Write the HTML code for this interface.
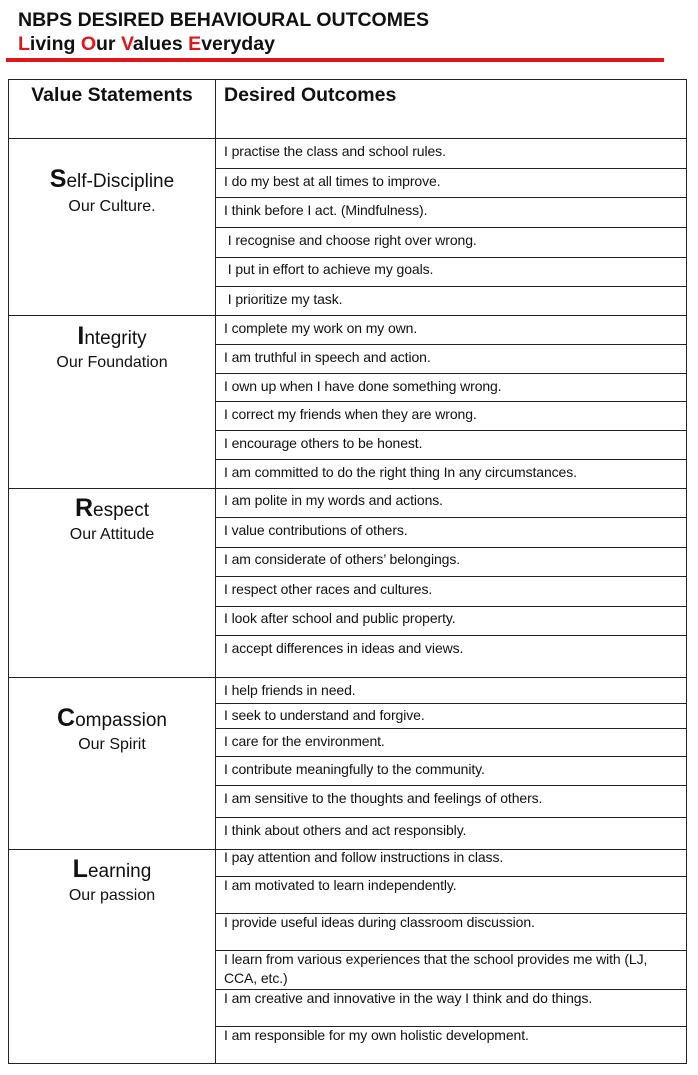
<!DOCTYPE html>
<html><head><meta charset="utf-8"><style>
body{margin:0;width:698px;height:1075px;background:#fff;position:relative;font-family:"Liberation Sans",Arial,sans-serif;color:#111;overflow:hidden}
.a{position:absolute;white-space:nowrap}
.t{position:absolute;left:224px;font-size:14px;line-height:18px;letter-spacing:-0.1px}
.v{position:absolute;left:8px;width:208px;text-align:center;font-size:19px}
.v b{font-weight:bold;font-size:25px}
.s{position:absolute;left:8px;width:208px;text-align:center;font-size:16px}
.h{position:absolute;left:8px;right:12px;height:0;border-top:1.5px solid #222}
.r{position:absolute;left:216px;width:470px;height:0;border-top:1.5px solid #222}
</style></head><body>
<div class="a" style="left:18px;top:9px;font-size:19.5px;font-weight:bold">NBPS DESIRED BEHAVIOURAL OUTCOMES</div>
<div class="a" style="left:18px;top:33px;font-size:19.5px;font-weight:bold"><span style="color:#e0161b">L</span>iving <span style="color:#e0161b">O</span>ur <span style="color:#e0161b">V</span>alues <span style="color:#e0161b">E</span>veryday</div>
<div class="a" style="left:6px;top:58px;width:658px;height:4px;background:#e0161b"></div>
<div class="a" style="left:8px;top:79px;width:677px;height:983px;border:1.5px solid #222"></div>
<div class="a" style="left:215px;top:79px;width:0;height:984px;border-left:1.5px solid #222"></div>
<div class="a" style="left:8px;top:84px;width:208px;text-align:center;font-size:19.5px;font-weight:bold">Value Statements</div>
<div class="a" style="left:224px;top:84px;font-size:19.5px;font-weight:bold">Desired Outcomes</div>
<div class="h" style="top:138px"></div><div class="h" style="top:315px"></div><div class="h" style="top:488px"></div><div class="h" style="top:677px"></div><div class="h" style="top:849px"></div>
<div class="r" style="top:168px"></div><div class="r" style="top:197px"></div><div class="r" style="top:227px"></div><div class="r" style="top:257px"></div><div class="r" style="top:286px"></div>
<div class="r" style="top:344px"></div><div class="r" style="top:373px"></div><div class="r" style="top:401px"></div><div class="r" style="top:430px"></div><div class="r" style="top:459px"></div>
<div class="r" style="top:517px"></div><div class="r" style="top:547px"></div><div class="r" style="top:576px"></div><div class="r" style="top:606px"></div><div class="r" style="top:635px"></div>
<div class="r" style="top:703px"></div><div class="r" style="top:728px"></div><div class="r" style="top:756px"></div><div class="r" style="top:785px"></div><div class="r" style="top:817px"></div>
<div class="r" style="top:876px"></div><div class="r" style="top:913px"></div><div class="r" style="top:950px"></div><div class="r" style="top:989px"></div><div class="r" style="top:1026px"></div>

<div class="v" style="top:165px"><b>S</b>elf-Discipline</div><div class="s" style="top:198px">Our Culture.</div>
<div class="v" style="top:322px"><b>I</b>ntegrity</div><div class="s" style="top:354px">Our Foundation</div>
<div class="v" style="top:494px"><b>R</b>espect</div><div class="s" style="top:526px">Our Attitude</div>
<div class="v" style="top:704px"><b>C</b>ompassion</div><div class="s" style="top:736px">Our Spirit</div>
<div class="v" style="top:855px"><b>L</b>earning</div><div class="s" style="top:887px">Our passion</div>

<div class="t" style="top:142px">I practise the class and school rules.</div>
<div class="t" style="top:172px">I do my best at all times to improve.</div>
<div class="t" style="top:201px">I think before I act. (Mindfulness).</div>
<div class="t" style="top:231px">&nbsp;I recognise and choose right over wrong.</div>
<div class="t" style="top:260px">&nbsp;I put in effort to achieve my goals.</div>
<div class="t" style="top:290px">&nbsp;I prioritize my task.</div>
<div class="t" style="top:319px">I complete my work on my own.</div>
<div class="t" style="top:348px">I am truthful in speech and action.</div>
<div class="t" style="top:377px">I own up when I have done something wrong.</div>
<div class="t" style="top:405px">I correct my friends when they are wrong.</div>
<div class="t" style="top:434px">I encourage others to be honest.</div>
<div class="t" style="top:463px">I am committed to do the right thing In any circumstances.</div>
<div class="t" style="top:491px">I am polite in my words and actions.</div>
<div class="t" style="top:521px">I value contributions of others.</div>
<div class="t" style="top:550px">I am considerate of others’ belongings.</div>
<div class="t" style="top:580px">I respect other races and cultures.</div>
<div class="t" style="top:609px">I look after school and public property.</div>
<div class="t" style="top:639px">I accept differences in ideas and views.</div>
<div class="t" style="top:681px">I help friends in need.</div>
<div class="t" style="top:706px">I seek to understand and forgive.</div>
<div class="t" style="top:732px">I care for the environment.</div>
<div class="t" style="top:760px">I contribute meaningfully to the community.</div>
<div class="t" style="top:789px">I am sensitive to the thoughts and feelings of others.</div>
<div class="t" style="top:821px">I think about others and act responsibly.</div>
<div class="t" style="top:848px">I pay attention and follow instructions in class.</div>
<div class="t" style="top:876px">I am motivated to learn independently.</div>
<div class="t" style="top:913px">I provide useful ideas during classroom discussion.</div>
<div class="t" style="top:950px;line-height:19px">I learn from various experiences that the school provides me with (LJ,<br>CCA, etc.)</div>
<div class="t" style="top:989px">I am creative and innovative in the way I think and do things.</div>
<div class="t" style="top:1026px">I am responsible for my own holistic development.</div>
</body></html>
